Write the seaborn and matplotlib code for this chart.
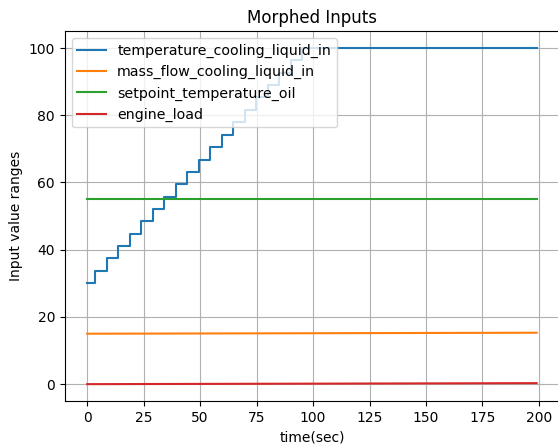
import matplotlib
matplotlib.use("Agg")
import matplotlib.pyplot as plt
import numpy as np
import pandas as pd
import seaborn as sns

# ---- data ----
# staircase of temperature_cooling_liquid_in: time where each level starts
temp_times = [0, 3.5, 8.6, 13.7, 18.8, 23.9, 29.0, 34.1, 39.2, 44.3, 49.4,
              54.5, 59.6, 64.7, 69.8, 74.9, 80.0, 85.1, 90.2, 95.3, 199]
temp_levels = [30.0, 33.7, 37.4, 41.1, 44.7, 48.4, 52.1, 55.8, 59.5, 63.2, 66.8,
               70.5, 74.2, 77.9, 81.6, 85.3, 88.9, 92.6, 96.3, 100.0, 100.0]

t_ends = [0, 199]
mass_flow = [15.0, 15.3]
setpoint_oil = [55.0, 55.0]
engine_load = [0.0, 0.3]

series = ["temperature_cooling_liquid_in", "mass_flow_cooling_liquid_in",
          "setpoint_temperature_oil", "engine_load"]
colors = sns.color_palette("tab10", 4)

fig, ax = plt.subplots(figsize=(5.58, 4.46), dpi=100)

sns.lineplot(x=temp_times, y=temp_levels, ax=ax, color=colors[0],
             label=series[0], drawstyle="steps-post", linewidth=1.5)
sns.lineplot(x=t_ends, y=mass_flow, ax=ax, color=colors[1], label=series[1], linewidth=1.5)
sns.lineplot(x=t_ends, y=setpoint_oil, ax=ax, color=colors[2], label=series[2], linewidth=1.5)
sns.lineplot(x=t_ends, y=engine_load, ax=ax, color=colors[3], label=series[3], linewidth=1.5)

ax.set_xticks([0, 25, 50, 75, 100, 125, 150, 175, 200])
ax.set_yticks([0, 20, 40, 60, 80, 100])
ax.grid(True)
ax.set_title("Morphed Inputs")
ax.set_xlabel("time(sec)")
ax.set_ylabel("Input value ranges")
ax.legend(loc="upper left", fontsize=10.2)

# axes runs right to the image edge in the reference
fig.subplots_adjust(left=0.116, right=1.002, top=0.930, bottom=0.101)
fig.savefig("out.png", dpi=100)
plt.close(fig)
